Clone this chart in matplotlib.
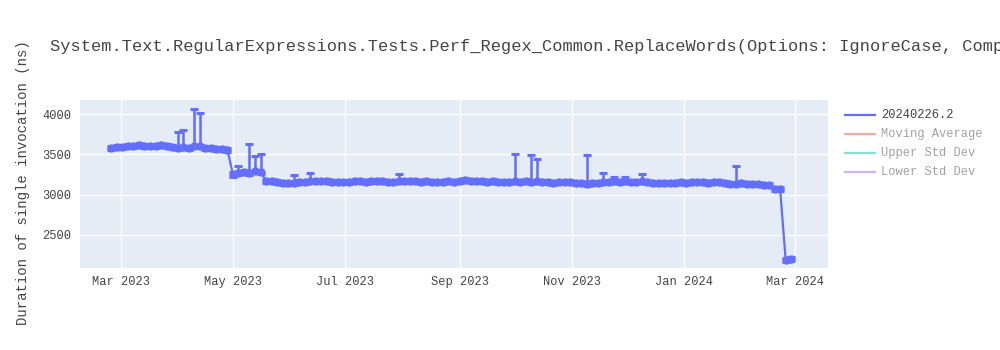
import numpy as np
import pandas as pd
import matplotlib
matplotlib.use("Agg")
import matplotlib.pyplot as plt
import matplotlib.dates as mdates
from matplotlib.lines import Line2D

#=== data ===#
title = "System.Text.RegularExpressions.Tests.Perf_Regex_Common.ReplaceWords(Options: IgnoreCase, Compiled)"
ylabel = "Duration of single invocation (ns)"
series_names = ["20240226.2", "Moving Average", "Upper Std Dev", "Lower Std Dev"]
series_colors = ["#636efa", "#ef553b", "#00cc96", "#ab63fa"]

# one run every 3 days, 2023-02-24 .. 2024-02-28
dates = pd.date_range("2023-02-24", periods=124, freq="3D")
duration = [
    3585, 3590, 3595, 3600, 3605, 3615, 3605, 3600, 3610, 3620,
    3600, 3590, 3585, 3595, 3580, 3600, 3610, 3580, 3575, 3570,
    3565, 3555, 3255, 3270, 3280, 3275, 3290, 3285, 3175, 3165,
    3155, 3145, 3140, 3150, 3155, 3160, 3165, 3170, 3165, 3170,
    3160, 3155, 3160, 3155, 3165, 3170, 3160, 3165, 3175, 3170,
    3160, 3155, 3165, 3175, 3170, 3165, 3160, 3165, 3160, 3155,
    3160, 3165, 3155, 3165, 3180, 3175, 3170, 3165, 3160, 3165,
    3160, 3155, 3160, 3165, 3160, 3165, 3160, 3170, 3160, 3155,
    3150, 3155, 3160, 3155, 3150, 3145, 3130, 3140, 3150, 3160,
    3155, 3165, 3160, 3165, 3155, 3160, 3165, 3155, 3150, 3150,
    3145, 3150, 3150, 3155, 3150, 3155, 3160, 3155, 3150, 3155,
    3160, 3150, 3130, 3135, 3140, 3135, 3130, 3130, 3125, 3115,
    3070, 3075, 2195, 2200,
]
base_err = 25
# runs with a big upper error bar: index -> top of bar
spike_idx = [12, 13, 15, 16, 23, 25, 26, 27, 33, 36, 52, 73, 76, 77, 86, 89, 91, 93, 96, 113]
spike_top = [3775, 3805, 4060, 4010, 3350, 3630, 3480, 3510, 3250, 3265, 3260, 3500, 3490, 3440, 3490, 3275, 3215, 3225, 3260, 3350]
low_idx = [22]
low_bottom = [3215]

yticks = [2500, 3000, 3500, 4000]

#=== figure ===#
px = 1 / 100
font = "Liberation Mono"
fig = plt.figure(figsize=(1000 * px, 350 * px), dpi=100)
ax = fig.add_axes([80 / 1000, 82 / 350, 748 / 1000, 168 / 350])
ax.set_facecolor("#e5ecf6")
for s in ax.spines.values():
    s.set_visible(False)
ax.grid(True, color="white", linewidth=1)
ax.set_axisbelow(True)

y = np.array(duration, dtype=float)
err_hi = np.full(len(y), base_err, dtype=float)
err_lo = np.full(len(y), base_err, dtype=float)
for i, top in zip(spike_idx, spike_top):
    err_hi[i] = top - y[i]
for i, bot in zip(low_idx, low_bottom):
    err_lo[i] = y[i] - bot

c = series_colors[0]
ax.errorbar(dates, y, yerr=[err_lo, err_hi], color=c, ecolor=c, elinewidth=1.8,
            capsize=2.9, capthick=2.2, linewidth=1.6, marker="o", markersize=5,
            zorder=3)

ax.set_ylim(2090, 4175)
ax.set_yticks(yticks)
ax.set_xlim(pd.Timestamp("2023-02-07"), pd.Timestamp("2024-03-19"))
ax.xaxis.set_major_locator(mdates.MonthLocator(bymonth=[1, 3, 5, 7, 9, 11]))
ax.xaxis.set_major_formatter(mdates.DateFormatter("%b %Y"))
ax.tick_params(length=0, labelsize=8.64, labelcolor="#444444")
ax.tick_params(axis="x", pad=6)
ax.tick_params(axis="y", pad=6)
for lab in ax.get_xticklabels() + ax.get_yticklabels():
    lab.set_fontfamily(font)

fig.text(50 / 1000, 1 - 46 / 350, title, fontsize=12.24, color="#444444",
         fontfamily=font, ha="left", va="center")
fig.text(23 / 1000, 1 - 183 / 350, ylabel, fontsize=10.08, color="#444444",
         fontfamily=font, rotation=90, ha="center", va="center")

# legend (last three traces are hidden -> faded)
rows = [115, 134, 153, 172]
for k, (name, col) in enumerate(zip(series_names, series_colors)):
    alpha = 1.0 if k == 0 else 0.5
    yy = 1 - rows[k] / 350
    fig.add_artist(Line2D([845 / 1000, 875 / 1000], [yy, yy], color=col,
                          linewidth=1.6, alpha=alpha, transform=fig.transFigure))
    fig.text(881 / 1000, yy, name, fontsize=8.64, color="#444444", alpha=alpha,
             fontfamily=font, ha="left", va="center")

fig.savefig("out.png", dpi=100)
